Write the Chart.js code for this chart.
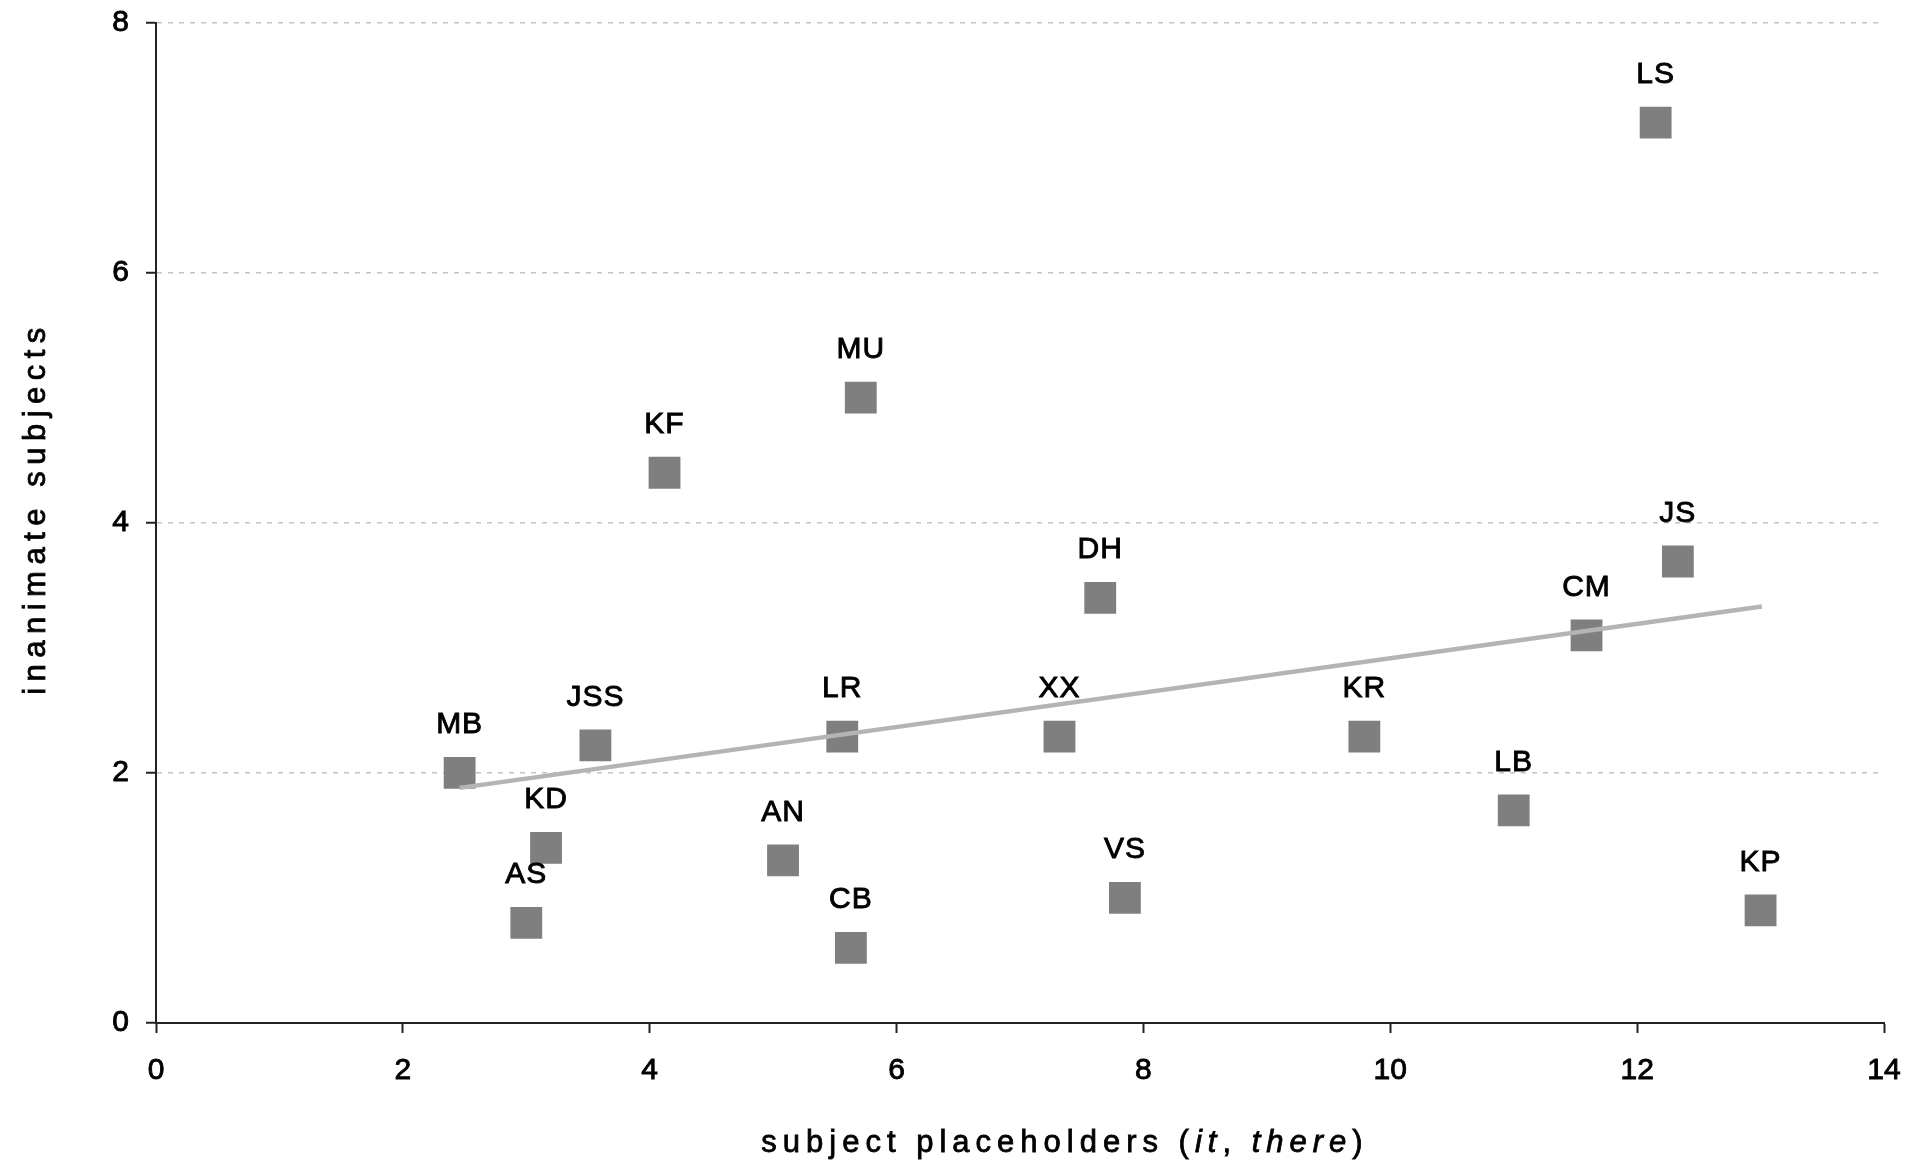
<!DOCTYPE html>
<html>
<head>
<meta charset="utf-8">
<script src="https://cdn.jsdelivr.net/npm/chart.js@4.4.1/dist/chart.umd.min.js"></script>
<style>
  html, body { margin: 0; padding: 0; background: #fff; }
  #wrap { width: 1907px; height: 1161px; }
</style>
</head>
<body>
<div id="wrap"><canvas id="c" width="1907" height="1161"></canvas></div>
<script>
// Speakers and their counts
const speakers = ['MB', 'KD', 'AS', 'JSS', 'KF', 'MU', 'AN', 'CB', 'LR', 'XX', 'DH', 'VS', 'KR', 'LB', 'CM', 'LS', 'JS', 'KP'];
const placeholders = [2.46, 3.16, 3.0, 3.56, 4.12, 5.71, 5.08, 5.63, 5.56, 7.32, 7.65, 7.85, 9.79, 11.0, 11.59, 12.15, 12.33, 13.0];
const inanimate   = [2.0, 1.4, 0.8, 2.22, 4.4, 5.0, 1.3, 0.6, 2.29, 2.29, 3.4, 1.0, 2.29, 1.7, 3.1, 7.2, 3.69, 0.9];

// Linear trend line end points
const trendX = [2.46, 13.01];
const trendY = [1.88, 3.33];

const xTicks = [0, 2, 4, 6, 8, 10, 12, 14];
const yTicks = [0, 2, 4, 6, 8];

const FONT = '"Liberation Sans", Arial, sans-serif';
const INK = '#000';

const points = speakers.map((s, i) => ({ x: placeholders[i], y: inanimate[i] }));
const trend = trendX.map((x, i) => ({ x, y: trendY[i] }));

// Fill text and give it a thin outline of the same colour for a heavier look
function inkText(ctx, str, x, y) {
  ctx.fillText(str, x, y);
  ctx.strokeText(str, x, y);
}

// Speaker initials above each square
const pointLabels = {
  id: 'pointLabels',
  afterDatasetsDraw(chart) {
    const meta = chart.getDatasetMeta(1);
    const ctx = chart.ctx;
    ctx.save();
    ctx.font = '30px ' + FONT;
    ctx.fillStyle = INK;
    ctx.strokeStyle = INK;
    ctx.lineWidth = 0.9;
    ctx.textAlign = 'center';
    ctx.textBaseline = 'middle';
    ctx.letterSpacing = '1px';
    meta.data.forEach((el, i) => {
      inkText(ctx, speakers[i], el.x, el.y - 48);
    });
    ctx.restore();
  }
};

// Axis titles, spaced out, with italic words on the x title
const axisTitles = {
  id: 'axisTitles',
  afterDraw(chart) {
    const ctx = chart.ctx;
    ctx.save();
    ctx.fillStyle = INK;
    ctx.strokeStyle = INK;
    ctx.lineWidth = 0.8;
    ctx.textBaseline = 'alphabetic';
    ctx.letterSpacing = '6px';
    const parts = [
      ['subject placeholders (', 'normal'],
      ['it', 'italic'],
      [', ', 'normal'],
      ['there', 'italic'],
      [')', 'normal']
    ];
    let total = 0;
    parts.forEach(p => { ctx.font = p[1] + ' 31px ' + FONT; total += ctx.measureText(p[0]).width; });
    let x = 1065 - total / 2;
    const y = 1152;
    ctx.textAlign = 'left';
    parts.forEach(p => {
      ctx.font = p[1] + ' 31px ' + FONT;
      inkText(ctx, p[0], x, y);
      x += ctx.measureText(p[0]).width;
    });

    ctx.translate(45, 508);
    ctx.rotate(-Math.PI / 2);
    ctx.font = '31px ' + FONT;
    ctx.letterSpacing = '6.5px';
    ctx.textAlign = 'center';
    inkText(ctx, 'inanimate subjects', 0, 0);
    ctx.restore();
  }
};

new Chart(document.getElementById('c'), {
  data: {
    datasets: [
      {
        type: 'line',
        data: trend,
        borderColor: '#b4b4b4',
        borderWidth: 4.5,
        pointRadius: 0,
        fill: false,
        order: 0
      },
      {
        type: 'scatter',
        data: points,
        pointStyle: 'rect',
        pointRadius: 22.5,
        pointHoverRadius: 22.5,
        backgroundColor: '#7f7f7f',
        borderWidth: 0,
        order: 1
      }
    ]
  },
  options: {
    responsive: false,
    animation: false,
    devicePixelRatio: 1,
    layout: { padding: { left: 0, top: 22, right: 23, bottom: 0 } },
    plugins: { legend: { display: false }, tooltip: { enabled: false } },
    scales: {
      x: {
        type: 'linear',
        min: 0, max: 14,
        afterBuildTicks(s) { s.ticks = xTicks.map(v => ({ value: v })); },
        afterFit(s) { s.height = 138; s.paddingLeft = 0; s.paddingRight = 0; },
        grid: { drawOnChartArea: false, drawTicks: true, tickLength: 10, tickColor: '#222', tickWidth: 2 },
        border: { display: true, color: '#222', width: 2 },
        ticks: { color: INK, font: { family: FONT, size: 30 }, padding: 20, textStrokeColor: INK, textStrokeWidth: 0.9 }
      },
      y: {
        type: 'linear',
        min: 0, max: 8,
        afterBuildTicks(s) { s.ticks = yTicks.map(v => ({ value: v })); },
        afterFit(s) { s.width = 156; s.paddingTop = 0; s.paddingBottom = 0; },
        grid: {
          drawOnChartArea: true, drawTicks: true, tickLength: 10,
          color: ctx => ctx.tick && ctx.tick.value === 0 ? 'rgba(0,0,0,0)' : '#c4c4c4',
          lineWidth: 1.5,
          tickColor: '#222', tickWidth: 2
        },
        border: { display: true, color: '#222', width: 2, dash: [5, 6] },
        ticks: { color: INK, font: { family: FONT, size: 30 }, padding: 17, textStrokeColor: INK, textStrokeWidth: 0.9 }
      }
    }
  },
  plugins: [pointLabels, axisTitles]
});
</script>
</body>
</html>
